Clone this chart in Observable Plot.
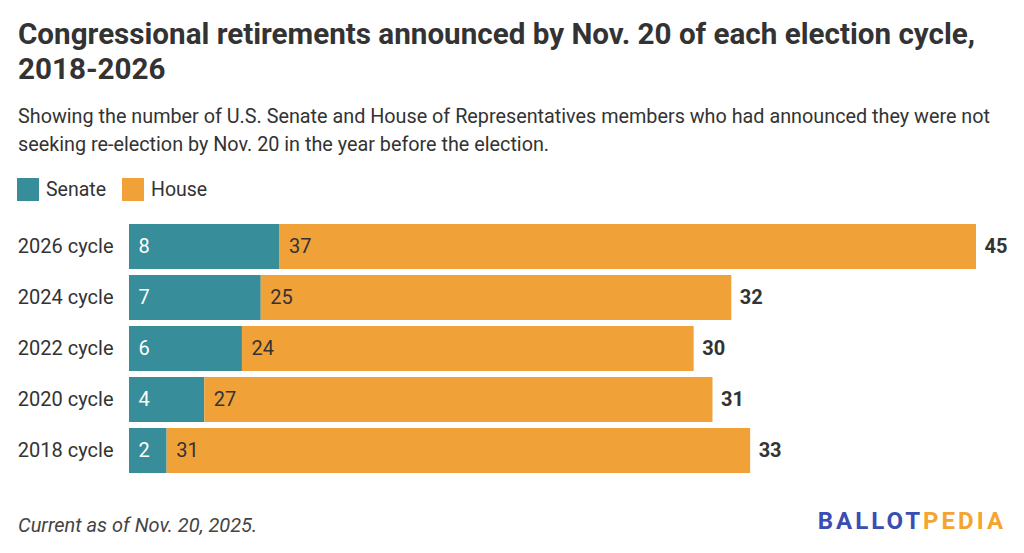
<!DOCTYPE html>
<html>
<head>
<meta charset="utf-8">
<script src="https://cdn.jsdelivr.net/npm/d3@7"></script>
<script src="https://cdn.jsdelivr.net/npm/@observablehq/plot@0.6"></script>
<style>
  html, body { margin: 0; padding: 0; background: #fff; }
  body { width: 1024px; height: 553px; position: relative; overflow: hidden; font-family: Roboto, "Noto Sans", sans-serif; color: #333; }
  .abs { position: absolute; }
  #title { left: 18px; top: 17px; width: 1000px; font-size: 29.6px; line-height: 35px; font-weight: 700; color: #333; letter-spacing: 0; }
  #subtitle { left: 18px; top: 103px; width: 1000px; font-size: 19.8px; line-height: 28px; color: #333; }
  #legend { left: 17px; top: 178px; display: flex; align-items: center; font-size: 19.5px; color: #333; }
  .sw { width: 22px; height: 23px; display: inline-block; margin-right: 7px; }
  .item { display: flex; align-items: center; margin-right: 16px; }
  #chart { left: 0; top: 211px; }
  #caption { left: 18px; top: 513px; font-size: 20px; line-height: 24px; font-style: italic; color: #444; }
  #logo { right: 18px; top: 507px; font-size: 24px; font-weight: 700; letter-spacing: 3px; }
</style>
</head>
<body>
<div id="title" class="abs">Congressional retirements announced by Nov. 20 of each election cycle, 2018-2026</div>
<div id="subtitle" class="abs">Showing the number of U.S. Senate and House of Representatives members who had announced they were not seeking re-election by Nov. 20 in the year before the election.</div>
<div id="legend" class="abs"></div>
<div id="chart" class="abs"></div>
<div id="caption" class="abs">Current as of Nov. 20, 2025.</div>
<div id="logo" class="abs"><span style="color:#3A4DB2">BALLOT</span><span style="color:#F3A530">PEDIA</span></div>
<script>
const cycles = ["2026 cycle", "2024 cycle", "2022 cycle", "2020 cycle", "2018 cycle"];
const senate = [8, 7, 6, 4, 2];
const house = [37, 25, 24, 27, 31];
const seriesNames = ["Senate", "House"];
const seriesColors = ["#378D99", "#F0A238"];

const rows = [];
cycles.forEach((c, i) => {
  rows.push({cycle: c, series: "Senate", value: senate[i], x0: 0, x1: senate[i]});
  rows.push({cycle: c, series: "House", value: house[i], x0: senate[i], x1: senate[i] + house[i]});
});
const totals = cycles.map((c, i) => ({cycle: c, total: senate[i] + house[i]}));

const legend = document.getElementById("legend");
seriesNames.forEach((s, i) => {
  const it = document.createElement("div");
  it.className = "item";
  it.innerHTML = `<span class="sw" style="background:${seriesColors[i]}"></span><span>${s}</span>`;
  legend.appendChild(it);
});

const chart = Plot.plot({
  width: 1024,
  height: 275,
  marginLeft: 129,
  marginRight: 48,
  marginTop: 10,
  marginBottom: 10,
  style: {fontFamily: "Roboto, sans-serif", fontSize: "20px", color: "#333", background: "#fff"},
  x: {domain: [0, 45], axis: null},
  y: {domain: cycles, paddingInner: 0.12, paddingOuter: 0.06, label: null},
  color: {domain: seriesNames, range: seriesColors},
  marks: [
    Plot.axisY({tickSize: 0, tickPadding: 16, fontSize: 20, fill: "#333", label: null}),
    Plot.barX(rows, {y: "cycle", x1: "x0", x2: "x1", fill: "series"}),
    Plot.text(rows, {y: "cycle", x: "x0", text: d => String(d.value), textAnchor: "start", dx: 9,
      fill: d => d.series === "Senate" ? "#fff" : "#333", fontSize: 20}),
    Plot.text(totals, {y: "cycle", x: "total", text: d => String(d.total), textAnchor: "start", dx: 8,
      fill: "#333", fontWeight: "bold", fontSize: 20})
  ]
});
document.getElementById("chart").appendChild(chart);
</script>
</body>
</html>
